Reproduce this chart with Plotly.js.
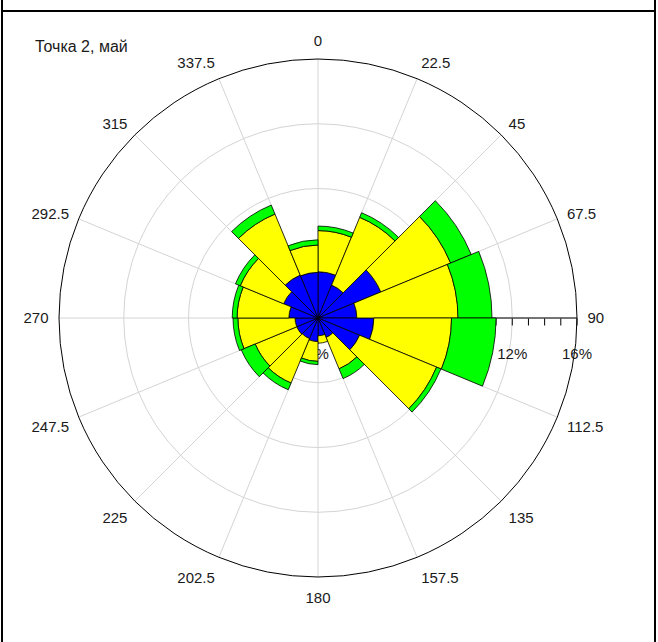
<!DOCTYPE html>
<html><head><meta charset="utf-8">
<script src="https://cdn.plot.ly/plotly-3.0.1.min.js"></script>
<style>
body{margin:0;background:#fff}
#chart{width:658px;height:642px;position:absolute;left:0;top:0}
.ln{position:absolute;background:#000;pointer-events:none}
</style>
</head><body>
<div id="chart"></div>
<div class="ln" style="left:1px;top:0;width:2px;height:642px"></div>
<div class="ln" style="left:654px;top:0;width:2px;height:642px"></div>
<div class="ln" style="left:1px;top:10px;width:655px;height:2px"></div>
<script>
// Wind directions (sector start, degrees) and angular tick labels
const directions = [0,22.5,45,67.5,90,112.5,135,157.5,180,202.5,225,247.5,270,292.5,315,337.5];
const angleLabels = ['0','22.5','45','67.5','90','112.5','135','157.5','180','202.5','225','247.5','270','292.5','315','337.5'];
// Frequency (%) per speed class, per direction sector
const classBlue   = [2.86,2.20,4.20,2.40,3.45,2.78,1.30,1.10,1.46,1.38,1.42,1.42,1.80,2.30,2.87,2.82];
const classYellow = [2.54,4.53,4.67,6.25,4.80,5.15,2.10,0.46,1.22,2.97,2.78,3.53,3.20,2.90,4.08,1.69];
const classGreen  = [0.28,0.31,1.38,2.10,2.75,0.29,0.65,0.00,0.20,0.45,0.93,0.30,0.30,0.32,0.60,0.32];
const titleText = 'Точка 2, май';

const W = 658, H = 642, cx = 318, cy = 318, R = 259;
const dom = {x:[(cx-R)/W,(cx+R)/W], y:[(H-cy-R)/H,(H-cy+R)/H]};
const font = {family:'"Liberation Sans", Arial, sans-serif', size:15, color:'#1a1a1a'};
const line = {color:'#000', width:0.8};

function bar(r, color){
  return {type:'barpolar', subplot:'polar2', r:r, theta:directions, width:22.5, offset:0,
    marker:{color:color, line:line}, hoverinfo:'skip'};
}
const data = [
  {type:'scatterpolar', subplot:'polar', r:[], theta:[], hoverinfo:'skip'},
  bar(classBlue,'#0000ff'),
  bar(classYellow,'#ffff00'),
  bar(classGreen,'#00ff00')
];
const layout = {
  width:W, height:H, margin:{l:0,r:0,t:0,b:0}, showlegend:false,
  paper_bgcolor:'#fff', font:font,
  polar:{
    domain:dom, bgcolor:'#fff',
    angularaxis:{rotation:90, direction:'clockwise', tickmode:'array', tickvals:directions, ticktext:angleLabels,
      showline:true, linecolor:'#000', linewidth:1, showgrid:true, gridcolor:'#d4d4d4', gridwidth:1,
      ticks:'outside', ticklen:7, tickcolor:'rgba(0,0,0,0)', tickfont:font},
    radialaxis:{range:[0,16], angle:0, dtick:4, ticksuffix:'%', showgrid:true, gridcolor:'#d4d4d4', gridwidth:1,
      showline:false, ticks:'outside', ticklen:22, tickcolor:'rgba(0,0,0,0)', tickfont:font, side:'clockwise'}
  },
  polar2:{
    domain:dom, bgcolor:'rgba(0,0,0,0)', barmode:'stack',
    angularaxis:{rotation:90, direction:'clockwise', showline:false, showgrid:false, showticklabels:false, ticks:''},
    radialaxis:{range:[0,16], angle:0, dtick:1, showgrid:false, showticklabels:false, showline:true, linecolor:'#000', linewidth:1,
      ticks:'outside', ticklen:7, tickcolor:'#000', tickwidth:1, side:'clockwise', layer:'below traces'}
  },
  annotations:[{text:titleText, xref:'paper', yref:'paper', x:33/W, y:1-47/H, xanchor:'left', yanchor:'middle',
    showarrow:false, font:Object.assign({}, font, {size:16})}]
};
Plotly.newPlot('chart', data, layout, {displayModeBar:false, staticPlot:true});
</script>
</body></html>
